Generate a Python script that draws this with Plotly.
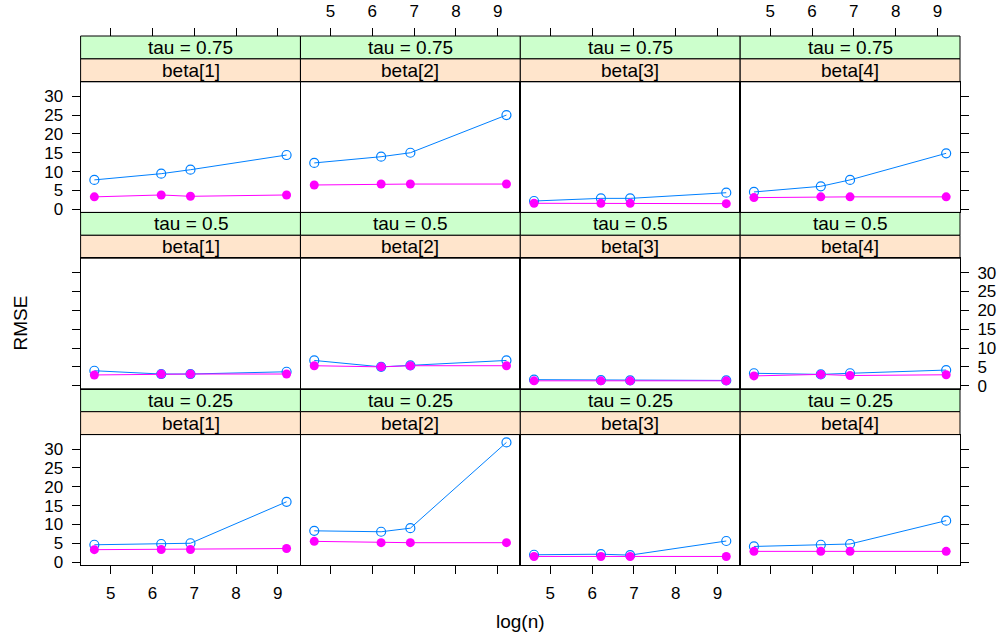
import plotly.graph_objects as go

# ---------------- data ----------------
log_n = [4.61, 6.21, 6.91, 9.21]
x_ticks = [5, 6, 7, 8, 9]
y_ticks = [0, 5, 10, 15, 20, 25, 30]
tau_labels = ["tau = 0.75", "tau = 0.5", "tau = 0.25"]
beta_labels = ["beta[1]", "beta[2]", "beta[3]", "beta[4]"]

# open (blue) series, per tau row, per beta column
open_tau075 = [[7.8, 9.45, 10.5, 14.4], [12.3, 13.95, 15.0, 25.0],
               [2.2, 2.9, 2.9, 4.4], [4.6, 6.1, 7.8, 14.85]]
open_tau050 = [[3.97, 3.1, 3.1, 3.7], [6.7, 5.0, 5.4, 6.7],
               [1.6, 1.5, 1.4, 1.4], [3.3, 3.0, 3.3, 4.15]]
open_tau025 = [[4.6, 4.8, 5.0, 16.0], [8.3, 8.05, 9.0, 31.75],
               [1.95, 2.1, 1.85, 5.6], [4.15, 4.6, 4.8, 11.0]]

# filled (magenta) series
filled_tau075 = [[3.3, 3.8, 3.45, 3.8], [6.45, 6.7, 6.7, 6.7],
                 [1.6, 1.6, 1.6, 1.5], [3.1, 3.3, 3.3, 3.3]]
filled_tau050 = [[2.85, 3.1, 3.1, 3.1], [5.3, 5.0, 5.3, 5.3],
                 [1.3, 1.3, 1.3, 1.3], [2.6, 3.0, 2.7, 2.9]]
filled_tau025 = [[3.3, 3.35, 3.35, 3.6], [5.5, 5.15, 5.15, 5.15],
                 [1.5, 1.5, 1.5, 1.5], [2.85, 2.85, 2.85, 2.85]]

open_rows = [open_tau075, open_tau050, open_tau025]
filled_rows = [filled_tau075, filled_tau050, filled_tau025]

# ---------------- layout geometry (pixels) ----------------
W, H = 997, 635
col_left = [80.6, 300.5, 520.3, 740.2]
col_w = 219.8
top0 = 36.0
strip_h = 22.9
panel_h = 130.6
row_step = 2 * strip_h + panel_h

x_range = [4.281, 9.541]
y_range = [-0.82, 33.82]

BLUE = "#0080FF"
MAGENTA = "#FF00FF"
FONT = "Liberation Sans, Arial, Helvetica, sans-serif"
TICK_FONT = dict(family=FONT, size=17, color="black")
STRIP_FONT = dict(family=FONT, size=19, color="black")
TITLE_FONT = dict(family=FONT, size=19, color="black")

def px_x(v):
    return v / W

def px_y(v):
    return 1 - v / H

fig = go.Figure()
layout = {}
shapes = []
annotations = []

for r in range(3):
    row_top = top0 + r * row_step
    p_top = row_top + 2 * strip_h
    p_bot = p_top + panel_h
    for c in range(4):
        idx = r * 4 + c + 1
        xa = "x" if idx == 1 else f"x{idx}"
        ya = "y" if idx == 1 else f"y{idx}"
        xkey = "xaxis" if idx == 1 else f"xaxis{idx}"
        ykey = "yaxis" if idx == 1 else f"yaxis{idx}"
        x0, x1 = col_left[c], col_left[c] + col_w

        fig.add_trace(go.Scatter(
            x=log_n, y=open_rows[r][c], xaxis=xa, yaxis=ya,
            mode="lines+markers", showlegend=False, hoverinfo="skip",
            line=dict(color=BLUE, width=1),
            marker=dict(symbol="circle-open", size=9, color=BLUE,
                        line=dict(width=1.2, color=BLUE))))
        fig.add_trace(go.Scatter(
            x=log_n, y=filled_rows[r][c], xaxis=xa, yaxis=ya,
            mode="lines+markers", showlegend=False, hoverinfo="skip",
            line=dict(color=MAGENTA, width=1),
            marker=dict(symbol="circle", size=9, color=MAGENTA)))

        bottom_row = (r == 2)
        layout[xkey] = dict(
            domain=[px_x(x0), px_x(x1)], anchor=ya, range=x_range,
            automargin=False,
            showgrid=False, zeroline=False, showline=True, mirror=True,
            linecolor="black", linewidth=1,
            ticks="outside" if bottom_row else "", ticklen=8,
            tickcolor="black", tickwidth=1,
            tickvals=x_ticks, ticklabelstandoff=4,
            showticklabels=bottom_row and c in (0, 2),
            tickfont=TICK_FONT)
        if c == 0:
            yticks, side, labels = "outside", "left", r in (0, 2)
        elif c == 3:
            yticks, side, labels = "outside", "right", r == 1
        else:
            yticks, side, labels = "", "left", False
        layout[ykey] = dict(
            domain=[px_y(p_bot), px_y(p_top)], anchor=xa, range=y_range,
            side=side, automargin=False,
            showgrid=False, zeroline=False, showline=True, mirror=True,
            linecolor="black", linewidth=1,
            ticks=yticks, ticklen=8, tickcolor="black", tickwidth=1,
            tickvals=y_ticks, ticklabelstandoff=5,
            showticklabels=labels, tickfont=TICK_FONT)

        # strips
        s_specs = [(row_top, row_top + strip_h, "#CCFFCC", tau_labels[r]),
                   (row_top + strip_h, row_top + 2 * strip_h, "#FFE5CC", beta_labels[c])]
        for (st, sb, col, txt) in s_specs:
            shapes.append(dict(type="rect", xref="paper", yref="paper",
                               x0=px_x(x0), x1=px_x(x1), y0=px_y(sb), y1=px_y(st),
                               fillcolor=col, line=dict(color="black", width=1),
                               layer="below"))
            annotations.append(dict(xref="paper", yref="paper",
                                    x=px_x((x0 + x1) / 2), y=px_y((st + sb) / 2),
                                    text=txt, showarrow=False,
                                    xanchor="center", yanchor="middle",
                                    font=STRIP_FONT))

# top tick axes (above the strips of the top row)
for c in range(4):
    idx = 13 + c
    base = c + 1
    base_x = "x" if base == 1 else f"x{base}"
    base_y = "y" if base == 1 else f"y{base}"
    x0, x1 = col_left[c], col_left[c] + col_w
    layout[f"xaxis{idx}"] = dict(
        domain=[px_x(x0), px_x(x1)], overlaying=base_x, anchor="free",
        position=px_y(top0), side="top", range=x_range, automargin=False,
        showgrid=False, zeroline=False, showline=False,
        ticks="outside", ticklen=8, tickcolor="black", tickwidth=1,
        tickvals=x_ticks, ticklabelstandoff=4,
        showticklabels=c in (1, 3), tickfont=TICK_FONT)
    fig.add_trace(go.Scatter(
        x=log_n, y=open_rows[0][c], xaxis=f"x{idx}", yaxis=base_y,
        mode="markers", marker=dict(opacity=0), showlegend=False,
        hoverinfo="skip"))

annotations.append(dict(xref="paper", yref="paper", x=px_x(19.5), y=px_y(323),
                        text="RMSE", textangle=-90, showarrow=False,
                        xanchor="center", yanchor="middle", font=TITLE_FONT))
annotations.append(dict(xref="paper", yref="paper", x=px_x(520), y=px_y(621),
                        text="log(n)", showarrow=False,
                        xanchor="center", yanchor="middle", font=TITLE_FONT))

fig.update_layout(
    width=W, height=H, margin=dict(l=0, r=0, t=0, b=0, autoexpand=False),
    paper_bgcolor="white", plot_bgcolor="white",
    shapes=shapes, annotations=annotations, showlegend=False,
    **layout)

fig.write_html("out.html", config={"displayModeBar": False},
               post_script="document.body.style.margin='0px';"
                           "document.body.style.overflow='hidden';")
